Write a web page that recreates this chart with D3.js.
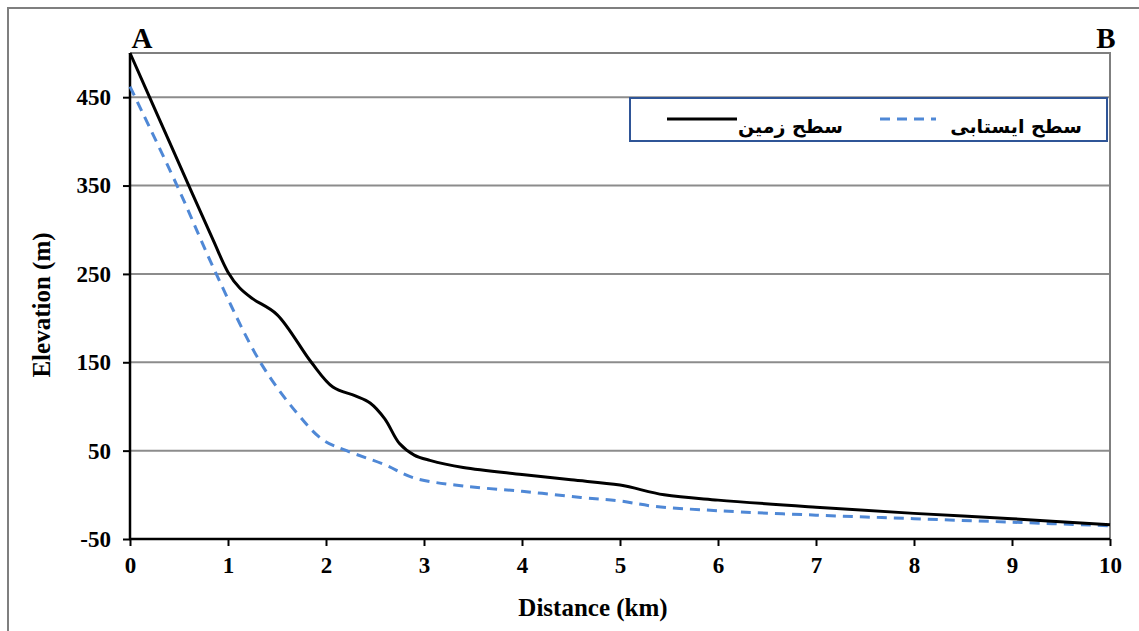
<!DOCTYPE html>
<html>
<head>
<meta charset="utf-8">
<script src="https://cdn.jsdelivr.net/npm/d3@7"></script>
<style>
  body { margin: 0; background: #fff; }
  svg { display: block; }
</style>
</head>
<body>
<svg id="chart" width="1139" height="631"></svg>
<script>
// ground surface profile (A -> B)
const groundDist = [0, 0.3, 0.6, 0.85, 1.0, 1.12, 1.25, 1.5, 1.85, 2.07, 2.3, 2.45, 2.6, 2.75, 2.9, 3.06, 3.4, 4.0, 4.5, 5.0, 5.45, 6.0, 7.0, 8.0, 9.0, 10]
const groundElev = [500, 425, 350, 288, 252, 234, 222, 204, 150, 122, 112, 104, 86, 58, 45, 39, 31, 23, 17, 11, 0, -6, -14, -21, -27, -34]
// water table profile
const waterDist = [0, 0.48, 0.88, 1.33, 1.7, 1.97, 2.21, 2.6, 2.9, 3.4, 4.0, 4.6, 5.0, 5.35, 6.0, 7.0, 8.0, 9.0, 10]
const waterElev = [462, 350, 250, 150, 93, 62, 50, 34, 19, 10, 4, -3, -7, -13, -18, -23, -27, -31, -35]

const yTicks = [-50, 50, 150, 250, 350, 450]
const xTicks = [0, 1, 2, 3, 4, 5, 6, 7, 8, 9, 10]
const legendLabels = ["سطح زمین", "سطح ایستابی"]

const svg = d3.select("#chart")
const serif = "'Liberation Serif', 'Times New Roman', serif"

// outer chart frame (cut off on right/bottom like the source)
svg.append("rect").attr("x", 8).attr("y", 8).attr("width", 1160).attr("height", 660)
  .attr("fill", "none").attr("stroke", "#7f7f7f").attr("stroke-width", 2)

const x = d3.scaleLinear().domain([0, 10]).range([130, 1110])
const y = d3.scaleLinear().domain([-50, 500]).range([539, 53])

// gridlines
svg.selectAll(".grid").data(yTicks.slice(1)).join("line").attr("class", "grid")
  .attr("x1", x(0)).attr("x2", x(10)).attr("y1", d => y(d)).attr("y2", d => y(d))
  .attr("stroke", "#8c8c8c").attr("stroke-width", 2)
// plot box top + right
svg.append("path").attr("d", `M${x(0)},${y(500)}H${x(10)}V${y(-50)}`)
  .attr("fill", "none").attr("stroke", "#7f7f7f").attr("stroke-width", 2)

// axes
const yAxis = svg.append("g").attr("transform", `translate(${x(0)},0)`)
  .call(d3.axisLeft(y).tickValues(yTicks).tickFormat(d => String(d)).tickSize(7).tickSizeOuter(0).tickPadding(12))
yAxis.attr("font-family", serif).attr("font-size", 23)
yAxis.select(".domain").remove()
yAxis.selectAll(".tick line").attr("stroke", "#000").attr("stroke-width", 2)
yAxis.selectAll("text").attr("font-weight", "bold").attr("fill", "#000")

const xAxis = svg.append("g").attr("transform", `translate(0,${y(-50)})`)
  .call(d3.axisBottom(x).tickValues(xTicks).tickFormat(d => String(d)).tickSize(7).tickSizeOuter(0).tickPadding(11))
xAxis.attr("font-family", serif).attr("font-size", 23)
xAxis.select(".domain").remove()
xAxis.selectAll(".tick line").attr("stroke", "#000").attr("stroke-width", 2)
xAxis.selectAll("text").attr("font-weight", "bold").attr("fill", "#000")

svg.append("line").attr("x1", x(0)).attr("x2", x(0)).attr("y1", y(500)).attr("y2", y(-50) + 1)
  .attr("stroke", "#000").attr("stroke-width", 2.5)
svg.append("line").attr("x1", x(0) - 1).attr("x2", x(10)).attr("y1", y(-50)).attr("y2", y(-50))
  .attr("stroke", "#000").attr("stroke-width", 2.5)

// series
const line = d3.line().curve(d3.curveCatmullRom.alpha(0.5)).x(d => x(d[0])).y(d => y(d[1]))
const ground = groundDist.map((d, i) => [d, groundElev[i]])
const water = waterDist.map((d, i) => [d, waterElev[i]])

svg.append("path").attr("d", line(water)).attr("fill", "none")
  .attr("stroke", "#4f88d6").attr("stroke-width", 3).attr("stroke-dasharray", "10,7")
svg.append("path").attr("d", line(ground)).attr("fill", "none")
  .attr("stroke", "#000").attr("stroke-width", 3)

// A / B labels
svg.append("text").attr("x", x(0) + 12).attr("y", 48).attr("text-anchor", "middle")
  .attr("font-family", serif).attr("font-weight", "bold").attr("font-size", 29).text("A")
svg.append("text").attr("x", x(10) - 4).attr("y", 48).attr("text-anchor", "middle")
  .attr("font-family", serif).attr("font-weight", "bold").attr("font-size", 29).text("B")

// axis titles
svg.append("text").attr("x", 593).attr("y", 616).attr("text-anchor", "middle")
  .attr("font-family", serif).attr("font-weight", "bold").attr("font-size", 25).text("Distance (km)")
svg.append("text").attr("transform", "translate(50,305) rotate(-90)").attr("text-anchor", "middle")
  .attr("font-family", serif).attr("font-weight", "bold").attr("font-size", 25).text("Elevation (m)")

// legend
const lg = svg.append("g")
lg.append("rect").attr("x", 630).attr("y", 98).attr("width", 477).attr("height", 43)
  .attr("fill", "#fff").attr("stroke", "#2f5597").attr("stroke-width", 2)
lg.append("line").attr("x1", 667).attr("x2", 737).attr("y1", 119).attr("y2", 119)
  .attr("stroke", "#000").attr("stroke-width", 3)
lg.append("line").attr("x1", 880).attr("x2", 936).attr("y1", 119).attr("y2", 119)
  .attr("stroke", "#4f88d6").attr("stroke-width", 3).attr("stroke-dasharray", "10,7")
lg.selectAll(".lgtext").data(legendLabels).join("text").attr("class", "lgtext")
  .attr("x", (d, i) => i === 0 ? 843 : 1082).attr("y", 133).attr("text-anchor", "end")
  .attr("font-family", "'DejaVu Sans', sans-serif").attr("font-weight", "bold").attr("font-size", 19)
  .text(d => d)
</script>
</body>
</html>
